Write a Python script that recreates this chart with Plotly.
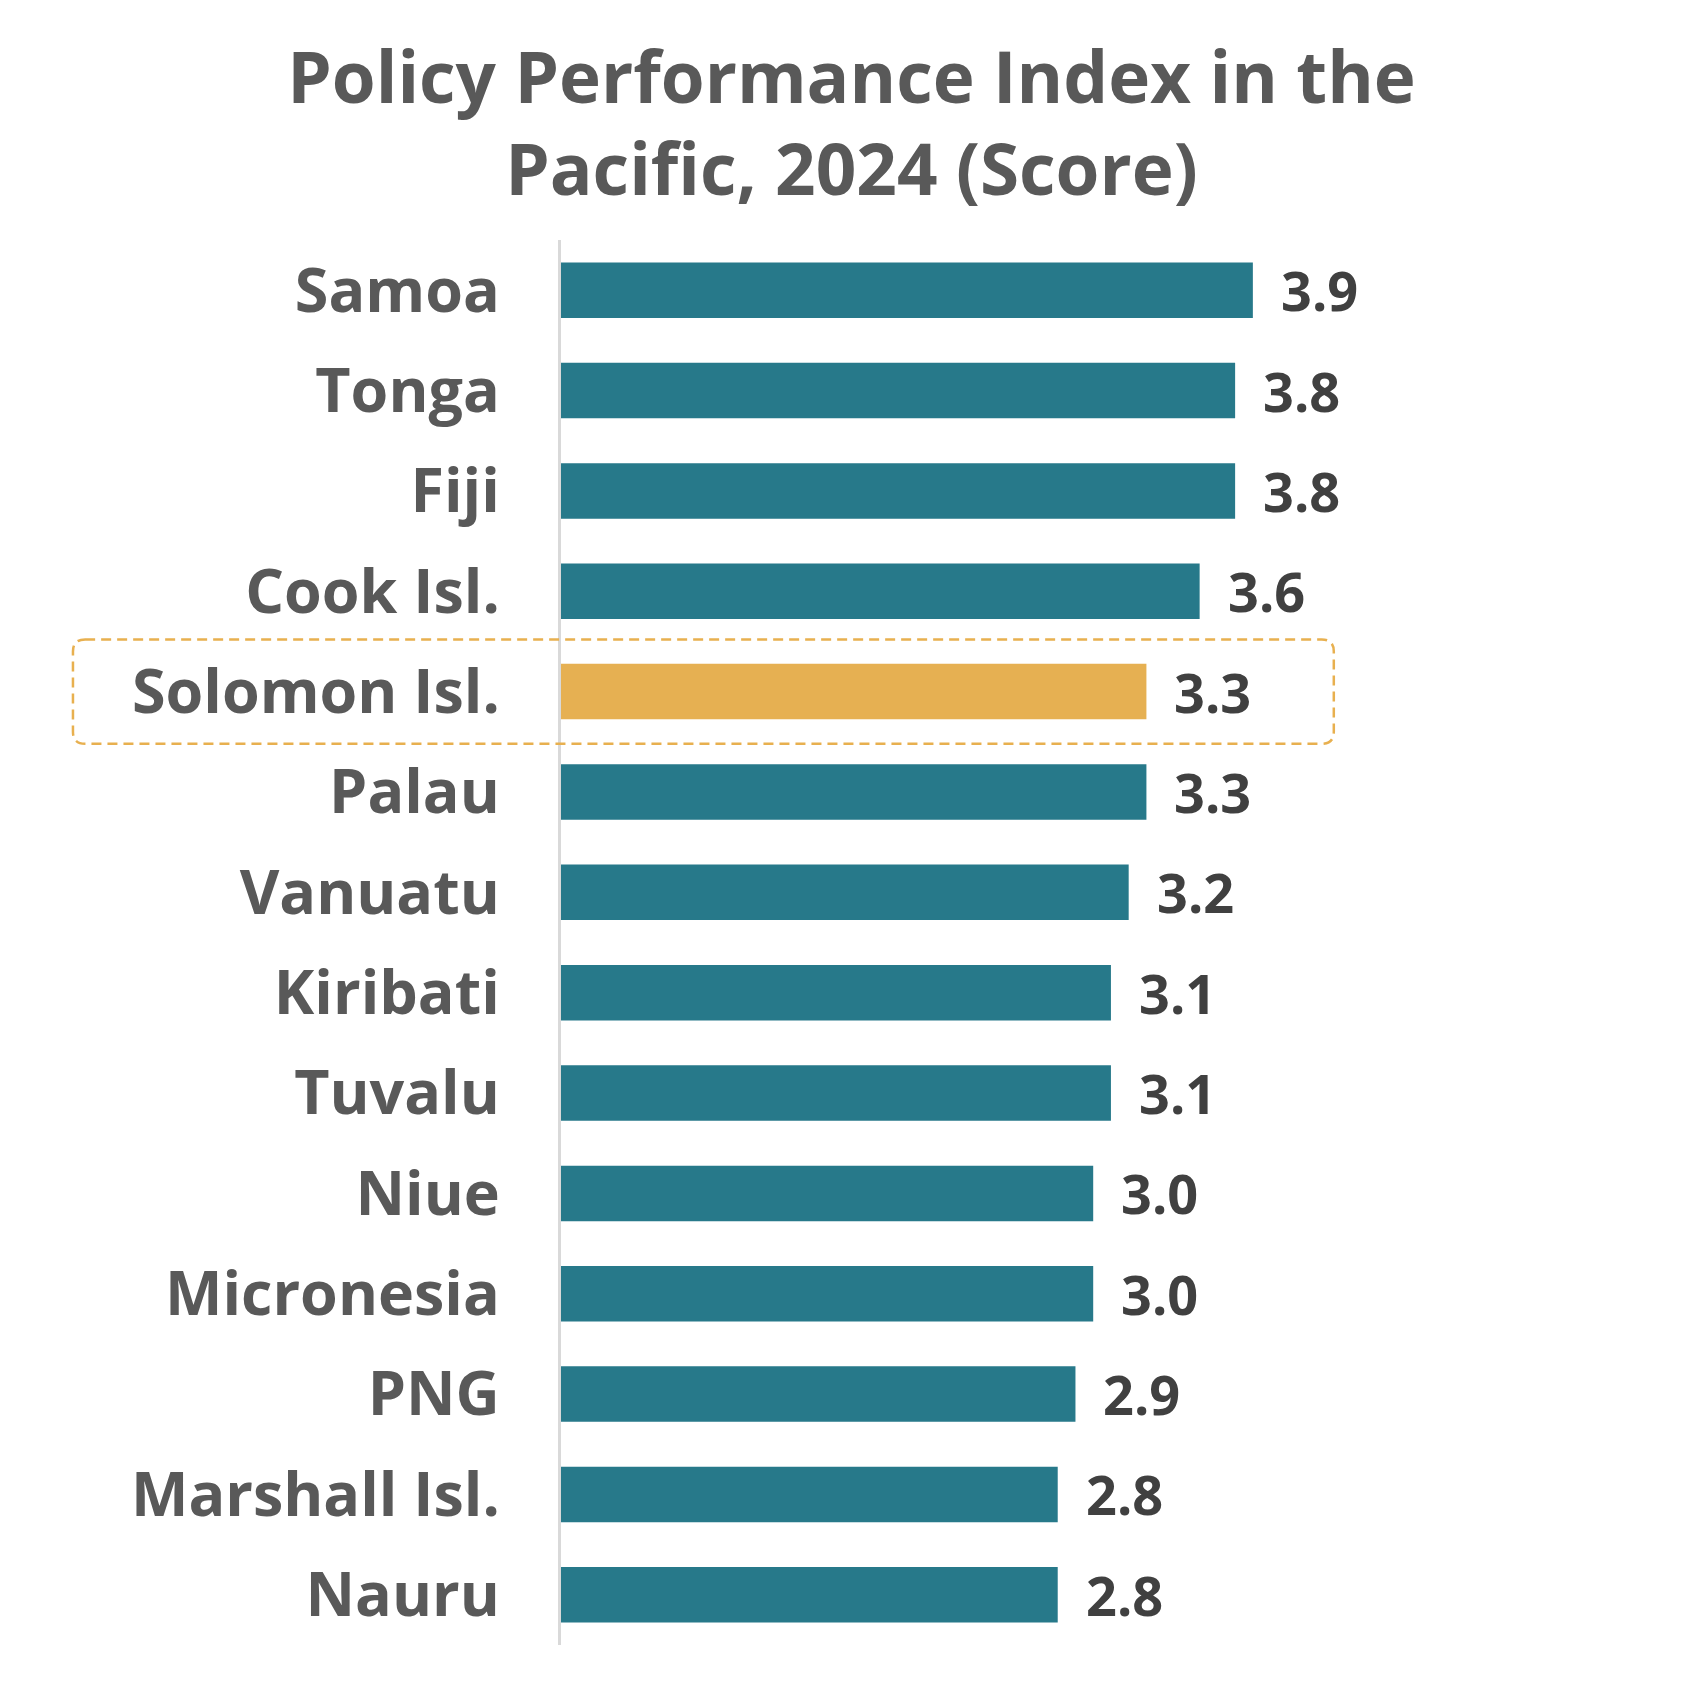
import plotly.graph_objects as go

countries = ["Samoa", "Tonga", "Fiji", "Cook Isl.", "Solomon Isl.", "Palau", "Vanuatu",
             "Kiribati", "Tuvalu", "Niue", "Micronesia", "PNG", "Marshall Isl.", "Nauru"]
scores = [3.9, 3.8, 3.8, 3.6, 3.3, 3.3, 3.2, 3.1, 3.1, 3.0, 3.0, 2.9, 2.8, 2.8]
highlight = "Solomon Isl."

TEAL = "#27798A"
GOLD = "#E6B052"
FONT = "Open Sans"

colors = [GOLD if c == highlight else TEAL for c in countries]

fig = go.Figure()
fig.add_trace(go.Bar(
    y=countries, x=scores, orientation="h",
    marker=dict(color=colors, line=dict(width=0)),
    width=0.553, hoverinfo="skip",
))

annotations = []
for c, v in zip(countries, scores):
    annotations.append(dict(
        x=v, y=c, xref="x", yref="y", text=f"{v:.1f}", showarrow=False,
        xanchor="left", yanchor="middle", xshift=26,
        font=dict(family=FONT, size=54, color="#404040", weight="bold"),
    ))

hi = countries.index(highlight)
# dashed rounded frame around highlighted row (x in paper units, y in category units)
x0, x1 = -0.581, 0.920
y0, y1 = hi - 0.52, hi + 0.52
rx, ry = 0.0145, 0.12
path = (f"M {x0+rx},{y0} L {x1-rx},{y0} Q {x1},{y0} {x1},{y0+ry} "
        f"L {x1},{y1-ry} Q {x1},{y1} {x1-rx},{y1} L {x0+rx},{y1} "
        f"Q {x0},{y1} {x0},{y1-ry} L {x0},{y0+ry} Q {x0},{y0} {x0+rx},{y0} Z")

fig.update_layout(
    width=1687, height=1689,
    paper_bgcolor="white", plot_bgcolor="white",
    margin=dict(l=553, r=294, t=232, b=52),
    showlegend=False,
    title=dict(
        text="Policy Performance Index in the<br>Pacific, 2024 (Score)",
        x=0.5, xref="container", xanchor="center",
        y=0.944, yref="container", yanchor="top",
        font=dict(family=FONT, size=71, color="#595959", weight="bold"),
    ),
    xaxis=dict(range=[0, 840 / 177.4], visible=False, showgrid=False, zeroline=False, fixedrange=True),
    yaxis=dict(
        type="category", autorange="reversed",
        showline=True, linecolor="#D9D9D9", linewidth=3,
        showgrid=False, zeroline=False, ticks="",
        ticklabelstandoff=46,
        tickfont=dict(family=FONT, size=61, color="#595959", weight="bold"),
    ),
    annotations=annotations,
    shapes=[dict(
        type="path", path=path, xref="paper", yref="y",
        line=dict(color="#E8B04F", width=2.5, dash="10px,6px"),
        fillcolor="rgba(0,0,0,0)", layer="above",
    )],
)

fig.write_html("out.html")
